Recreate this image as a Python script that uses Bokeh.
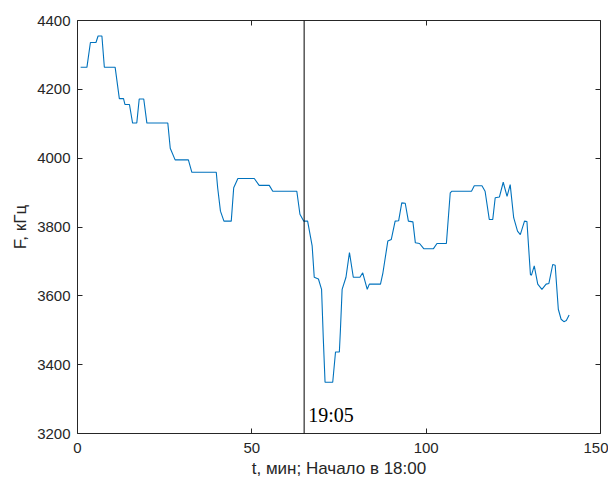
from bokeh.plotting import figure
from bokeh.models import LinearAxis, Range1d, FixedTicker, Span, Label
from bokeh.embed import file_html
from bokeh.resources import INLINE

t_min = [0.9, 2.7, 3.7, 5.3, 5.9, 7.0, 7.7, 10.8, 12.0, 13.2, 13.6, 14.9, 15.8, 17.0, 17.7,
         19.0, 19.9, 25.9, 26.6, 28.0, 31.8, 32.8, 39.8, 40.2, 41.0, 42.0, 44.1, 44.8, 46.0,
         50.7, 52.1, 55.0, 56.0, 62.9, 63.8, 64.9, 66.0, 66.8, 67.3, 67.9, 69.1, 70.0, 70.5,
         71.0, 73.2, 74.0, 75.1, 75.4, 75.9, 77.0, 78.0, 79.1, 81.0, 81.8, 83.1, 83.7, 86.9,
         87.6, 89.0, 90.0, 91.1, 92.1, 93.0, 94.0, 94.9, 96.2, 96.9, 98.1, 99.3, 102.1, 103.1,
         105.8, 106.9, 107.4, 113.0, 113.8, 116.0, 116.9, 118.1, 119.1, 119.8, 121.0, 122.1,
         123.2, 124.1, 125.1, 126.2, 127.0, 128.2, 128.9, 129.9, 130.2, 131.0, 132.0, 133.2,
         134.4, 135.2, 136.3, 137.0, 137.9, 138.7, 139.5, 140.2, 141.0]
F_khz = [4264, 4264, 4336, 4336, 4355, 4355, 4264, 4264, 4173, 4173, 4156, 4156, 4102, 4102, 4172,
         4172, 4102, 4102, 4029, 3995, 3995, 3959, 3959, 3914, 3846, 3817, 3817, 3914, 3941,
         3941, 3921, 3921, 3904, 3904, 3837, 3817, 3817, 3773, 3745, 3654, 3649, 3619, 3475,
         3349, 3349, 3437, 3437, 3499, 3619, 3654, 3726, 3654, 3654, 3667, 3619, 3634, 3634,
         3667, 3759, 3764, 3817, 3818, 3870, 3869, 3817, 3815, 3754, 3752, 3737, 3737, 3752,
         3752, 3899, 3904, 3904, 3920, 3920, 3904, 3822, 3822, 3885, 3887, 3930, 3889, 3923,
         3827, 3788, 3778, 3817, 3816, 3662, 3660, 3687, 3634, 3619, 3634, 3636, 3691, 3689,
         3561, 3532, 3525, 3528, 3544]

x_ticks = [0, 50, 100, 150]
y_ticks = [3200, 3400, 3600, 3800, 4000, 4200, 4400]
marker_t = 65
marker_label = "19:05"
x_label = "t, мин; Начало в 18:00"
y_label = "F, кГц"

AX = "#262626"
p = figure(width=608, height=480, output_backend="svg", toolbar_location=None,
           x_range=Range1d(0, 150), y_range=Range1d(3200, 4400),
           x_axis_location=None, y_axis_location=None,
           min_border_left=77, min_border_right=8, min_border_top=20, min_border_bottom=45)
p.grid.visible = False
p.outline_line_color = None
p.background_fill_color = "white"
p.border_fill_color = "white"


def style(ax, labels=True):
    ax.axis_line_color = AX
    ax.major_tick_line_color = AX
    ax.major_tick_in = 5
    ax.major_tick_out = 0
    ax.minor_tick_line_color = None
    ax.major_label_text_font = "Liberation Sans"
    ax.major_label_text_font_size = "15px"
    ax.major_label_text_color = AX
    ax.axis_label_text_font = "Liberation Sans"
    ax.axis_label_text_font_size = "17px"
    ax.axis_label_text_font_style = "normal"
    ax.axis_label_text_color = AX
    if not labels:
        ax.major_label_text_font_size = "0px"
        ax.major_label_text_color = None


xb = LinearAxis(ticker=FixedTicker(ticks=x_ticks), axis_label=x_label)
style(xb)
xb.major_label_standoff = 9
xb.axis_label_standoff = 3
yl = LinearAxis(ticker=FixedTicker(ticks=y_ticks), axis_label=y_label)
style(yl)
yl.major_label_standoff = 7
yl.axis_label_standoff = 4
xt = LinearAxis(ticker=FixedTicker(ticks=x_ticks))
style(xt, False)
xt.major_label_standoff = 0
yr = LinearAxis(ticker=FixedTicker(ticks=y_ticks))
style(yr, False)
yr.major_label_standoff = 0
p.add_layout(xb, "below")
p.add_layout(yl, "left")
p.add_layout(xt, "above")
p.add_layout(yr, "right")

p.line(t_min, F_khz, line_color="#0072BD", line_width=1.1)
p.add_layout(Span(location=marker_t, dimension="height", line_color="black", line_width=1))
p.add_layout(Label(x=marker_t, y=3254, text=marker_label, x_offset=4,
                   text_font="Liberation Serif", text_font_size="20px",
                   text_baseline="middle", text_color="black"))

open("out.html", "w").write(file_html(p, INLINE))
